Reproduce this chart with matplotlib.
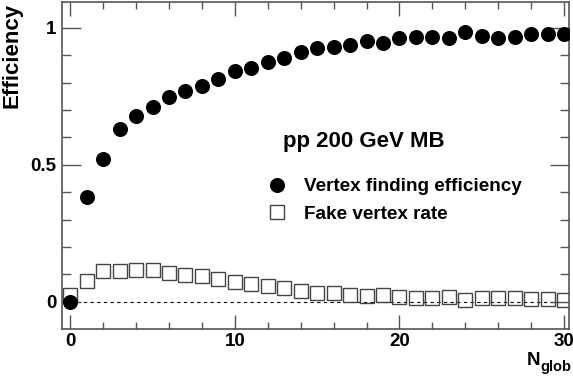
import numpy as np
import matplotlib
matplotlib.use('Agg')
import matplotlib.pyplot as plt
from matplotlib.lines import Line2D

plt.rcParams['font.family'] = ['Liberation Sans', 'DejaVu Sans']
plt.rcParams['font.weight'] = 'bold'

# data
n_glob = np.arange(0, 31)
efficiency = [0.0, 0.383, 0.523, 0.630, 0.679, 0.713, 0.749, 0.771, 0.788, 0.815,
              0.844, 0.854, 0.876, 0.891, 0.911, 0.926, 0.929, 0.939, 0.951, 0.946,
              0.965, 0.967, 0.967, 0.965, 0.984, 0.970, 0.964, 0.967, 0.979, 0.979,
              0.979]
fake_rate = [0.026, 0.074, 0.113, 0.113, 0.117, 0.115, 0.105, 0.099, 0.095, 0.084,
             0.072, 0.066, 0.057, 0.050, 0.040, 0.032, 0.032, 0.026, 0.022, 0.026,
             0.016, 0.013, 0.013, 0.016, 0.005, 0.013, 0.013, 0.013, 0.010, 0.010,
             0.005]

fig = plt.figure(figsize=(5.73, 3.79), dpi=100)
ax = fig.add_axes([62/573, 1-329/379, (569-62)/573, (329-2)/379])

frame = '#555555'
for s in ax.spines.values():
    s.set_color(frame)
    s.set_linewidth(1.2)

ax.set_xlim(-0.5, 30.3)
ax.set_ylim(-0.1, 1.095)

# zero line
ax.plot([0, 30.3], [0, 0], color='black', lw=0.8, ls=(0, (3, 3)), zorder=1)

ax.plot(n_glob, fake_rate, ls='none', marker='s', ms=9.5, mfc='none',
        mec='#444444', mew=1.0, zorder=2)
ax.plot(n_glob, efficiency, ls='none', marker='o', ms=9.8, color='black', zorder=3)

ax.set_xticks([0, 10, 20, 30])
ax.set_xticks(np.arange(0, 31, 2), minor=True)
ax.set_yticks([0, 0.5, 1])
ax.set_yticklabels(['0', '0.5', '1'])
ax.set_yticks(np.arange(0, 1.01, 0.1), minor=True)
ax.tick_params(which='both', direction='in', top=True, right=True, color=frame,
               labelsize=13.5, width=1.0)
ax.tick_params(axis='y', which='major', length=14, pad=4)
ax.tick_params(axis='y', which='minor', length=6.5)
ax.tick_params(axis='x', which='major', length=10, pad=3)
ax.tick_params(axis='x', which='minor', length=5)

ax.set_ylabel('Efficiency', fontsize=16, fontweight='bold', loc='top')
ax.yaxis.set_label_coords(-0.077, 0.997)

# x title: N with subscript glob
fig.text(540/573, 1-365/379, 'N', ha='right', va='baseline', fontsize=13.5)
fig.text(571/573, 1-371/379, 'glob', ha='right', va='baseline', fontsize=10.5)

ax.text(283, 379-141, 'pp 200 GeV MB', transform=None, fontsize=16,
        fontweight='bold', va='center', ha='left')

handles = [Line2D([], [], ls='none', marker='o', ms=9.8, color='black'),
           Line2D([], [], ls='none', marker='s', ms=9.5, mfc='none',
                  mec='#444444', mew=1.0)]
ax.legend(handles, ['Vertex finding efficiency', 'Fake vertex rate'],
          loc='upper left', bbox_to_anchor=(266/573, 1-178/379),
          bbox_transform=fig.transFigure, frameon=False, fontsize=13.6,
          handlelength=1.2, handletextpad=0.8, labelspacing=0.55,
          borderpad=0, borderaxespad=0)

fig.savefig('out.png', dpi=100)
